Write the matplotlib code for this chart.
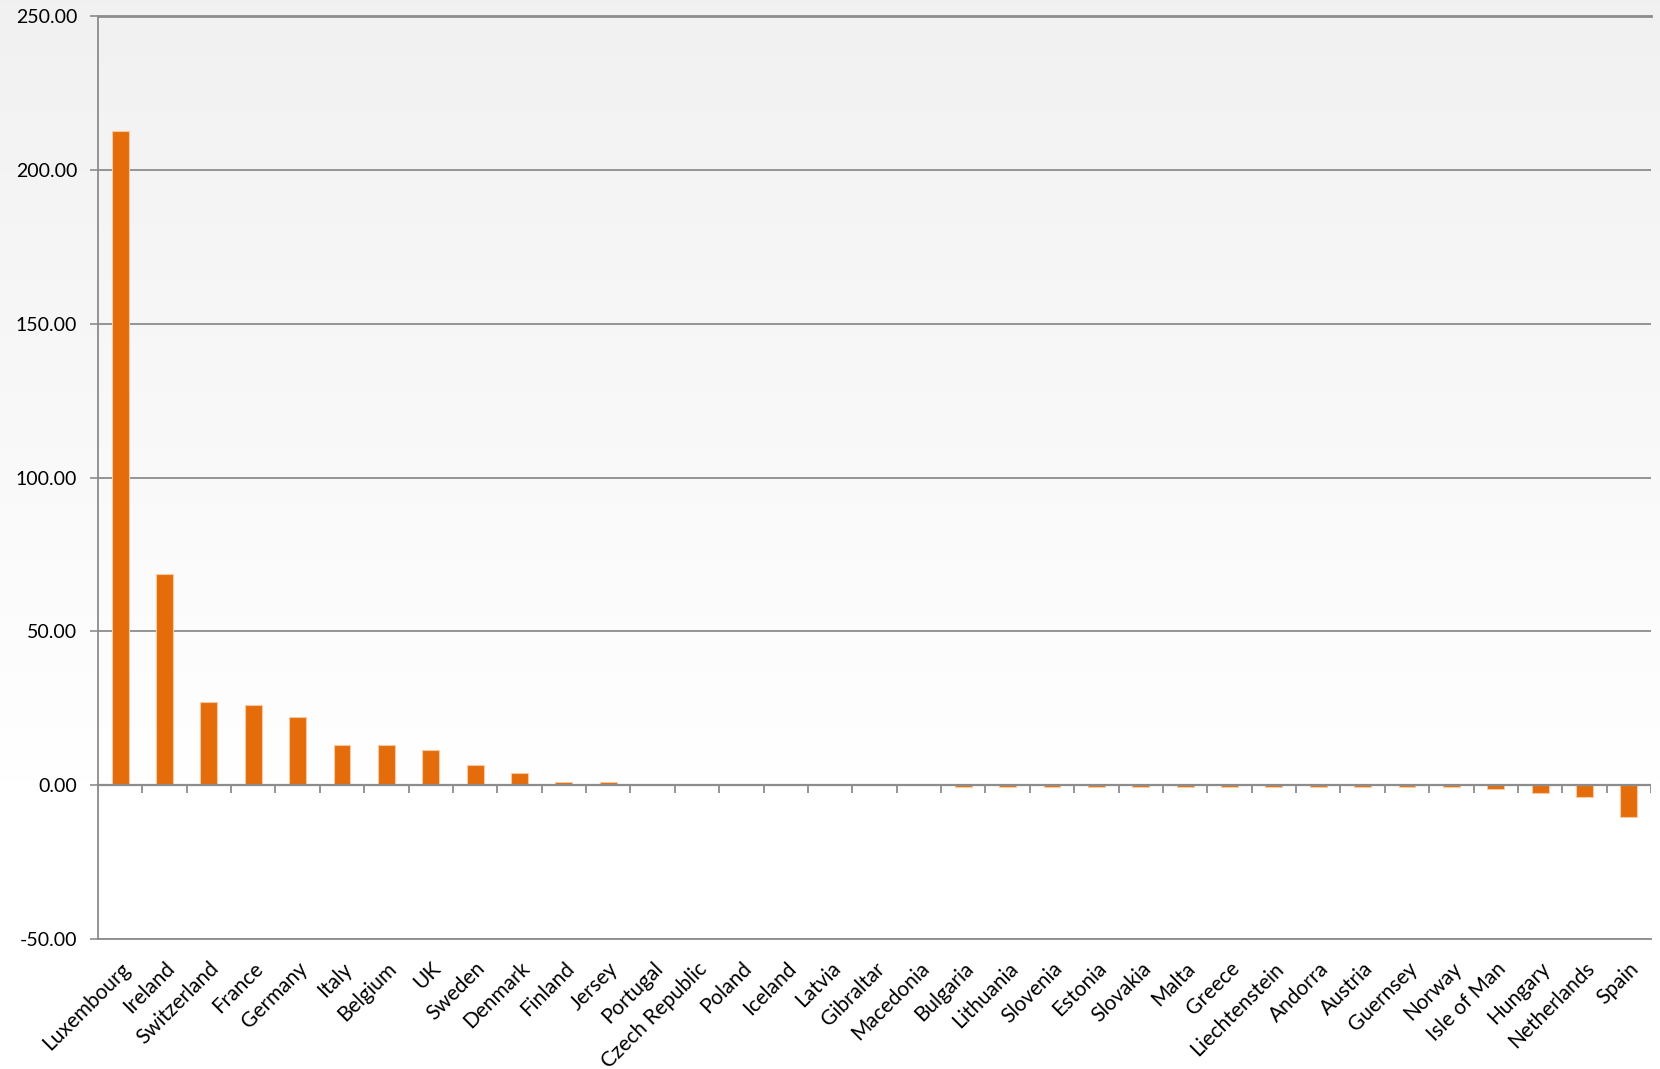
import matplotlib.pyplot as plt
import numpy as np

countries = ['Luxembourg', 'Ireland', 'Switzerland', 'France', 'Germany', 'Italy',
             'Belgium', 'UK', 'Sweden', 'Denmark', 'Finland', 'Jersey', 'Portugal',
             'Czech Republic', 'Poland', 'Iceland', 'Latvia', 'Gibraltar', 'Macedonia',
             'Bulgaria', 'Lithuania', 'Slovenia', 'Estonia', 'Slovakia', 'Malta',
             'Greece', 'Liechtenstein', 'Andorra', 'Austria', 'Guernsey', 'Norway',
             'Isle of Man', 'Hungary', 'Netherlands', 'Spain']
values = [212.5, 68.5, 27.0, 25.9, 22.0, 13.1,
          13.1, 11.5, 6.4, 4.1, 0.9, 0.9, 0.15,
          0.1, 0.1, 0.1, 0.1, 0.1, 0.0,
          -0.6, -0.6, -0.6, -0.6, -0.6, -0.6,
          -0.6, -0.6, -0.6, -0.6, -0.6, -0.6,
          -1.3, -2.5, -4.0, -10.2]
yticks = [-50, 0, 50, 100, 150, 200, 250]

plt.rcParams['font.family'] = ['Lato', 'DejaVu Sans']

fig = plt.figure(figsize=(16.6, 10.69), dpi=100)

# background gradient (grey at top fading to white)
bg = fig.add_axes([0, 0, 1, 1], zorder=-10)
grad = np.clip(np.linspace(0.945, 1.02, 256), 0, 1)
img = np.repeat(grad[:, None, None], 2, axis=1).repeat(3, axis=2)
bg.imshow(img, aspect='auto', extent=[0, 1, 0, 1], origin='upper')
bg.axis('off')

ax = fig.add_axes([0.059, 0.1216, 0.9946 - 0.059, 0.985 - 0.1216])
ax.set_facecolor('none')

x = np.arange(len(countries))
ax.bar(x, values, width=0.38, color='#E46C0A', edgecolor='#F6C9A2', linewidth=0.8, zorder=3)

ax.set_xlim(-0.5, len(countries) - 0.5)
ax.set_ylim(-50, 250)
ax.set_yticks(yticks)
ax.set_yticklabels(['%.2f' % v for v in yticks], fontsize=14)
ax.yaxis.grid(True, color='#8c8c8c', linewidth=1.3, zorder=1)
ax.tick_params(axis='y', direction='out', length=6, color='#8c8c8c', width=1.2, pad=9)

##x轴标签
ax.set_xticks(x)
ax.set_xticklabels(countries, rotation=45, ha='right', rotation_mode='anchor', fontsize=15)
ax.tick_params(axis='x', length=0, pad=14)

# zero line with category separators
ax.axhline(0, color='#8c8c8c', linewidth=1.6, zorder=4)
ax.vlines(np.arange(len(countries) + 1) - 0.5, -2.6, 0, color='#8c8c8c', linewidth=1.3, zorder=4)

ax.spines['top'].set_color('#8c8c8c')
ax.spines['top'].set_linewidth(2)
ax.spines['right'].set_color('none')
ax.spines['left'].set_color('#8c8c8c')
ax.spines['left'].set_linewidth(1.3)
ax.spines['bottom'].set_color('#8c8c8c')
ax.spines['bottom'].set_linewidth(1.3)

fig.savefig('out.png', dpi=100)
